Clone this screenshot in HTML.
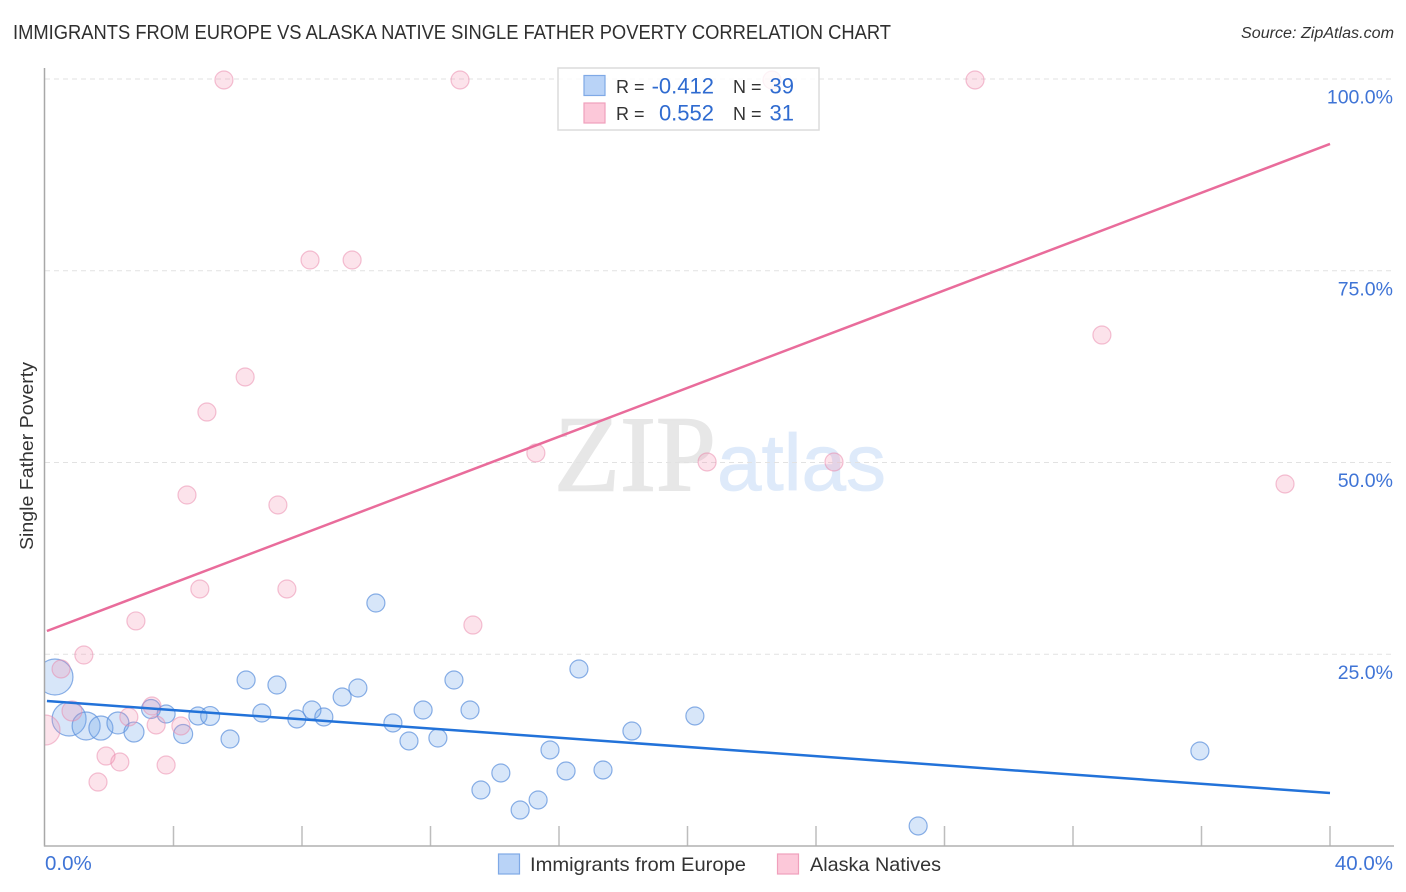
<!DOCTYPE html>
<html lang="en">
<head>
<meta charset="utf-8">
<title>Immigrants from Europe vs Alaska Native Single Father Poverty Correlation Chart</title>
<style>
html,body{margin:0;padding:0;background:#fff;width:1406px;height:892px;overflow:hidden}
svg{display:block;font-family:"Liberation Sans",sans-serif}
</style>
</head>
<body>
<svg id="chart" width="1406" height="892" viewBox="0 0 1406 892">
  <rect width="1406" height="892" fill="#fff"/>
  <text x="13" y="39" font-size="20" fill="#2f2f2f" textLength="878" lengthAdjust="spacingAndGlyphs">IMMIGRANTS FROM EUROPE VS ALASKA NATIVE SINGLE FATHER POVERTY CORRELATION CHART</text>
  <text x="1394" y="38" font-size="15.5" font-style="italic" fill="#333" text-anchor="end" textLength="153" lengthAdjust="spacingAndGlyphs">Source: ZipAtlas.com</text>
  <g>
    <text x="554" y="490.500" font-size="108" fill="#e7e7e7" stroke="#e7e7e7" stroke-width="1.5" style="font-family:'Liberation Serif',serif">ZIP</text>
    <text x="717" y="490" font-size="80" fill="#deeafa" stroke="#deeafa" stroke-width="0.8">atlas</text>
  </g>
  <g id="grid"></g>
  <g id="points"></g>
  <rect x="0" y="60" width="44" height="790" fill="#fff"/>
  <g id="axes"></g>
  <g id="trends"></g>
  <text transform="translate(33,456) rotate(-90)" font-size="18.5" fill="#333" text-anchor="middle" textLength="188" lengthAdjust="spacingAndGlyphs">Single Father Poverty</text>

  <g>
    <rect x="558" y="68" width="261" height="62" fill="#fff" fill-opacity="0.8" stroke="#dcdcdc" stroke-width="1.5"/>
    <rect x="584" y="75.500" width="21" height="20" fill="#b9d3f7" stroke="#7fa9e6" stroke-width="1.2"/>
    <rect x="584" y="103" width="21" height="20" fill="#fcc8d9" stroke="#f0a0bc" stroke-width="1.2"/>
    <g font-size="18" fill="#333">
      <text x="616" y="93">R =</text>
      <text x="616" y="120">R =</text>
      <text x="733" y="93">N =</text>
      <text x="733" y="120">N =</text>
    </g>
    <g font-size="22" fill="#2f6bd0" text-anchor="end">
      <text x="714" y="93.500">-0.412</text>
      <text x="714" y="120.500">0.552</text>
      <text x="794" y="93.500">39</text>
      <text x="794" y="120.500">31</text>
    </g>
  </g>

  <g>
    <rect x="498.500" y="854" width="21" height="20" fill="#b9d3f7" stroke="#7fa9e6" stroke-width="1.2"/>
    <text x="530" y="871" font-size="19.500" fill="#333" textLength="216" lengthAdjust="spacingAndGlyphs">Immigrants from Europe</text>
    <rect x="777.500" y="854" width="21" height="20" fill="#fcc8d9" stroke="#f0a0bc" stroke-width="1.2"/>
    <text x="810" y="871" font-size="19.500" fill="#333" textLength="131" lengthAdjust="spacingAndGlyphs">Alaska Natives</text>
  </g>
</svg>

<script>
// Chart data (percent values)
const europeX = [0.31,0.75,1.28,1.74,2.27,2.77,3.30,3.77,4.30,4.76,5.14,5.76,6.26,6.75,7.22,7.84,8.31,8.68,9.25,9.74,10.30,10.83,11.33,11.77,12.23,12.73,13.23,13.57,14.19,14.79,15.35,15.72,16.22,16.62,17.37,18.27,20.23,27.18,35.95];
const europeY = [22.03,16.56,15.65,15.38,16.04,14.86,17.86,17.21,14.60,16.95,16.95,13.95,21.64,17.34,20.99,16.56,17.73,16.82,19.43,20.60,31.68,16.04,13.69,17.73,14.08,21.64,17.73,7.30,9.52,4.69,6.00,12.52,9.78,23.08,9.91,14.99,16.95,2.61,12.39];
const europeWeight = [4,3.57,2.42,1.78,1.49,1.23,1.11,1,1.11,1,1.1,1,1,1,1,1,1,1,1,1,1,1,1,1,1,1,1,1,1,1,1,1,1,1,1,1,1,1,1];
const alaskaX = [0,0.50,0.84,1.21,1.65,1.90,2.33,2.61,2.83,3.33,3.46,3.77,4.23,4.42,4.82,5.04,5.57,6.23,7.25,7.53,8.25,9.56,12.92,13.32,15.28,20.61,22.63,24.56,28.95,32.90,38.60];
const alaskaY = [15.12,23.08,17.60,24.90,8.34,11.73,10.95,16.82,29.34,18.25,15.78,10.56,15.65,45.76,33.51,56.58,99.87,61.15,44.46,33.51,76.40,76.40,99.87,28.81,51.24,50.07,99.87,50.07,99.87,66.62,47.20];
const alaskaWeight = [2.78,1,1.23,1,1,1,1,1,1,1,1,1,1,1,1,1,1,1,1,1,1,1,1,1,1,1,1,1,1,1,1];
const trendX = [0.06,40];
const europeTrend = [18.9,6.91];
const alaskaTrend = [28.03,91.53];
const yTickValues = [25,50,75,100];
const yTickLabels = ['25.0%','50.0%','75.0%','100.0%'];
const xTickValues = [0,4,8,12,16,20,24,28,32,36,40];
const xEdgeValues = [0,40];
const xEdgeLabels = ['0.0%','40.0%'];

// Axis functions
const xScale = v => 45 + v * 32.125;
const yScale = v => 846 - v * 7.67;
const rScale = w => 9 * Math.sqrt(w);

const NS = 'http://www.w3.org/2000/svg';
function make(tag, attrs, parent) {
  const el = document.createElementNS(NS, tag);
  for (const k in attrs) el.setAttribute(k, attrs[k]);
  parent.appendChild(el);
  return el;
}
const grid = document.getElementById('grid');
const axes = document.getElementById('axes');
const points = document.getElementById('points');
const trends = document.getElementById('trends');

yTickValues.forEach((v, i) => {
  const line = make('line', {x1: 45, x2: 1394, y1: yScale(v), y2: yScale(v), stroke: '#e2e2e2', 'stroke-width': 1, 'stroke-dasharray': '5 4'}, grid);
  
  
  const label = make('text', {x: 1393, y: yScale(v) + 24.5, 'font-size': 19.5, fill: '#3f74d6', 'text-anchor': 'end'}, axes);
  label.textContent = yTickLabels[i];
  
  
});

xTickValues.forEach(v => {
  if (v === 0) return;
  const tick = make('line', {x1: xScale(v), x2: xScale(v), y1: 826, y2: 846, stroke: '#bdbdbd', 'stroke-width': 1.5}, axes);
  
  
});

xEdgeValues.forEach((v, i) => {
  const label = make('text', {x: i === 0 ? xScale(v) : 1393, y: 870, 'font-size': 20.5, fill: '#3f74d6', 'text-anchor': i === 0 ? 'start' : 'end'}, axes);
  label.textContent = xEdgeLabels[i];
  
  
});

const yAxis = make('line', {x1: 44.5, x2: 44.5, y1: 68, y2: 846.5, stroke: '#a8a8a8', 'stroke-width': 1.5}, axes);


const xAxis = make('line', {x1: 44, x2: 1394, y1: 846, y2: 846, stroke: '#b0b0b0', 'stroke-width': 1.5}, axes);



europeX.forEach((x, i) => {
  const c = make('circle', {cx: xScale(x), cy: yScale(europeY[i]), r: rScale(europeWeight[i]), fill: '#6ea4ea', 'fill-opacity': 0.28, stroke: '#5a8fdc', 'stroke-opacity': 0.7, 'stroke-width': 1.2}, points);
  
  
});
alaskaX.forEach((x, i) => {
  const c = make('circle', {cx: xScale(x), cy: yScale(alaskaY[i]), r: rScale(alaskaWeight[i]), fill: '#f58fb0', 'fill-opacity': 0.25, stroke: '#ea86a9', 'stroke-opacity': 0.5, 'stroke-width': 1.2}, points);
  
  
});

const blueLine = make('line', {x1: xScale(trendX[0]), x2: xScale(trendX[1]), y1: yScale(europeTrend[0]), y2: yScale(europeTrend[1]), stroke: '#2272d9', 'stroke-width': 2.5}, trends);


const pinkLine = make('line', {x1: xScale(trendX[0]), x2: xScale(trendX[1]), y1: yScale(alaskaTrend[0]), y2: yScale(alaskaTrend[1]), stroke: '#e96c9b', 'stroke-width': 2.5}, trends);


</script>
</body>
</html>
